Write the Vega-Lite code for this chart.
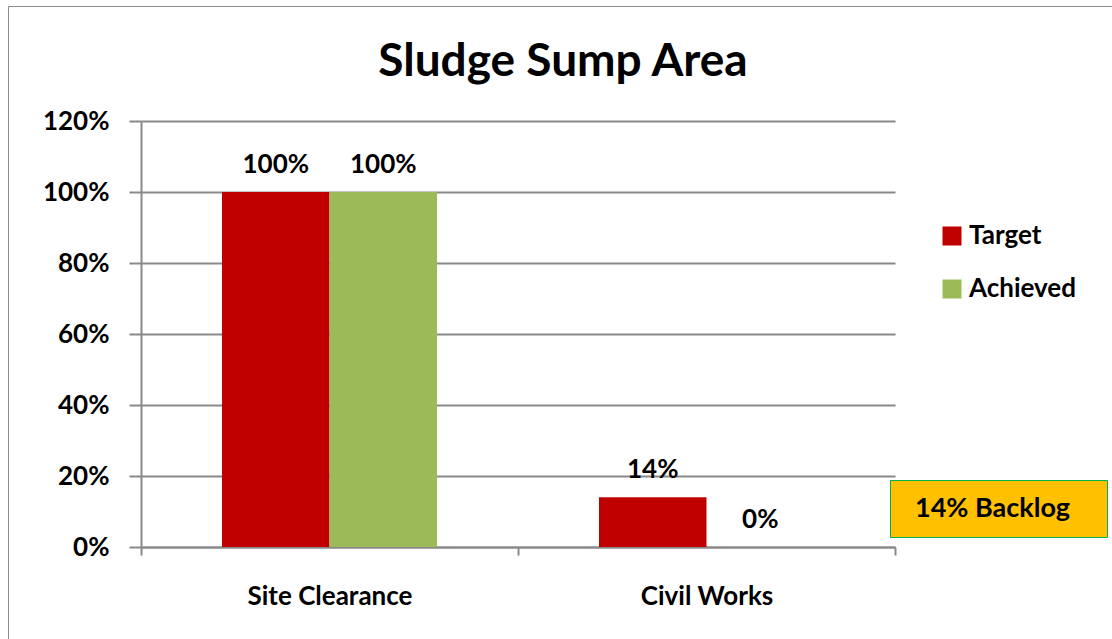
{
  "$schema": "https://vega.github.io/schema/vega-lite/v6.json",
  "width": 754,
  "height": 426,
  "autosize": {"type": "none"},
  "padding": {"left": 141, "top": 121, "right": 217, "bottom": 92},
  "background": "white",
  "title": {"text": "Sludge Sump Area", "font": "Lato", "fontSize": 46, "fontWeight": "bold", "color": "black", "anchor": "middle", "dx": 45, "offset": -80},
  "config": {"view": {"stroke": null}, "font": "Lato"},
  "layer": [
    {
      "data": {"values": [
        {"category": "Site Clearance", "series": "Target", "value": 1.0},
        {"category": "Site Clearance", "series": "Achieved", "value": 1.0},
        {"category": "Civil Works", "series": "Target", "value": 0.14},
        {"category": "Civil Works", "series": "Achieved", "value": 0.0}
      ]},
      "encoding": {
        "x": {"field": "category", "type": "nominal", "sort": null,
          "scale": {"paddingInner": 0, "paddingOuter": 0},
          "axis": {"title": null, "labelAngle": 0, "tickBand": "extent", "labelFont": "Lato", "labelFontSize": 26, "labelFontWeight": "bold", "labelColor": "black", "tickSize": 8, "tickWidth": 2, "tickColor": "#898989", "domainColor": "#898989", "domainWidth": 2, "labelPadding": 28, "grid": false}},
        "xOffset": {"field": "series", "type": "nominal", "sort": ["Target", "Achieved"],
          "scale": {"paddingInner": 0, "paddingOuter": 0.7535}},
        "y": {"field": "value", "type": "quantitative",
          "scale": {"domain": [0, 1.2]},
          "axis": {"title": null, "values": [0, 0.2, 0.4, 0.6, 0.8, 1.0, 1.2], "format": ".0%", "labelFont": "Lato", "labelFontSize": 26, "labelFontWeight": "bold", "labelColor": "black", "tickSize": 12, "tickWidth": 2, "tickColor": "#898989", "domainColor": "#898989", "domainWidth": 2, "gridColor": "#898989", "gridWidth": 2, "labelPadding": 20}}
      },
      "layer": [
        {
          "mark": {"type": "bar"},
          "encoding": {
            "color": {"field": "series", "type": "nominal",
              "scale": {"domain": ["Target", "Achieved"], "range": ["#C00000", "#9BBB59"]},
              "legend": {"orient": "none", "legendX": 798, "legendY": 102, "title": null, "symbolType": "square", "symbolSize": 361, "symbolStrokeWidth": 0, "labelFont": "Lato", "labelFontSize": 26, "labelFontWeight": "bold", "labelColor": "black", "labelOffset": 4, "rowPadding": 27, "padding": 0}}
          }
        },
        {
          "mark": {"type": "text", "baseline": "alphabetic", "dy": -19, "font": "Lato", "fontSize": 26, "fontWeight": "bold", "color": "black"},
          "encoding": {
            "text": {"field": "value", "type": "quantitative", "format": ".0%"}
          }
        }
      ]
    },
    {
      "data": {"values": [{"note": "14% Backlog"}]},
      "mark": {"type": "point", "opacity": 0},
      "encoding": {
        "shape": {"field": "note", "type": "nominal",
          "scale": {"range": ["M-1,-0.05H1V0.05H-1Z"]},
          "legend": {"orient": "none", "legendX": 749, "legendY": 359, "title": " ", "titleOrient": "right", "titlePadding": 22, "titleFontSize": 27, "padding": 15, "fillColor": "#FFC000", "strokeColor": "#00B050", "symbolType": "M-1,-0.05H1V0.05H-1Z", "symbolSize": 34969, "clipHeight": 27, "symbolOpacity": 0, "symbolStrokeWidth": 0, "labelOffset": -177, "labelFont": "Lato", "labelFontSize": 27, "labelFontWeight": "bold", "labelColor": "black",
            "encoding": {"legend": {"update": {"strokeWidth": {"value": 2}}}}}
        }
      }
    },
    {
      "data": {"values": [{"frame": "chart area"}]},
      "mark": {"type": "point", "opacity": 0},
      "encoding": {
        "strokeDash": {"field": "frame", "type": "nominal",
          "legend": {"orient": "none", "legendX": -133, "legendY": -115, "title": null, "padding": 0, "strokeColor": "#8c8c8c", "symbolType": "square", "symbolSize": 1254400, "clipHeight": 650, "symbolOpacity": 0, "symbolStrokeWidth": 0, "labelOffset": 0, "labelExpr": "''",
            "encoding": {"legend": {"update": {"strokeWidth": {"value": 2}}}}}
        }
      }
    }
  ]
}
